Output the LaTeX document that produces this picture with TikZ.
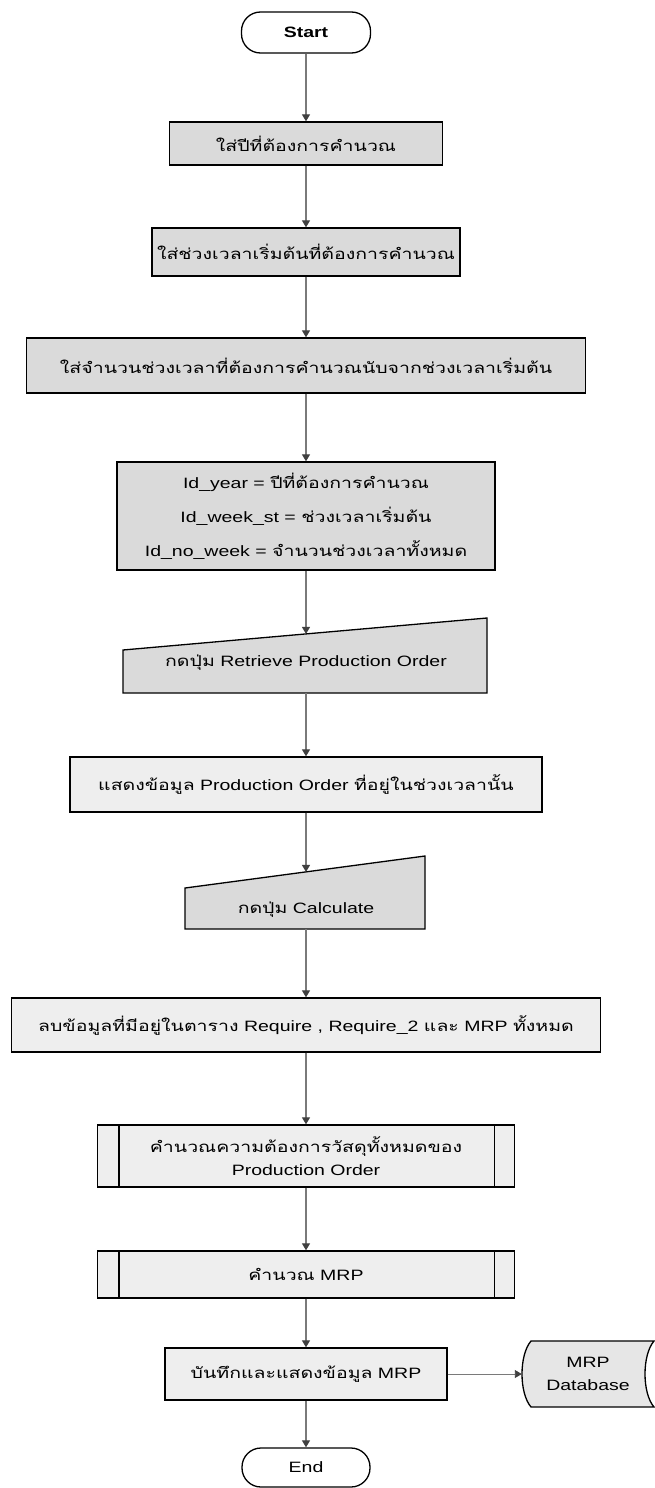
\documentclass[tikz,border=0pt]{standalone}
\usepackage{fontspec}
\setmainfont{Liberation Sans}[FakeStretch=1.3]
\newfontfamily\thai{Loma}[Script=Thai,FakeStretch=1.3]
\usetikzlibrary{arrows.meta,calc}

\definecolor{inputfill}{HTML}{DADADA}
\definecolor{procfill}{HTML}{EEEEEE}
\definecolor{dbfill}{HTML}{E6E6E6}
\definecolor{flowline}{HTML}{7A7A7A}
\definecolor{tipcol}{HTML}{404040}

\begin{document}
\begin{tikzpicture}[x=1pt,y=-1pt,
  font=\fontsize{15}{23}\selectfont,
  shp/.style n args={2}{draw=black,line width=1.3pt,minimum width=#1,minimum height=#2,
    inner sep=0pt,align=center},
  inbox/.style n args={2}{shp={#1}{#2},fill=inputfill},
  procbox/.style n args={2}{shp={#1}{#2},fill=procfill},
  term/.style n args={2}{shp={#1}{#2},fill=white,rounded corners=19pt},
  flow/.style={draw=flowline,line width=1.2pt,
    -{Triangle[width=8pt,length=7pt,color=tipcol,fill=tipcol]}},
  manual/.style={draw=black,line width=1.3pt,fill=inputfill}]

\useasboundingbox (0,0) rectangle (655,1488);

% terminator and data-entry boxes
\node[term={129}{41},font=\fontsize{15}{23}\selectfont\bfseries] (start) at (306,32.5) {Start};
\node[inbox={273}{43}] (b1) at (306,143.5) {\thai ใส่ปีที่ต้องการคำนวณ};
\node[inbox={308}{48}] (b2) at (306,252) {\thai ใส่ช่วงเวลาเริ่มต้นที่ต้องการคำนวณ};
\node[inbox={559}{55}] (b3) at (306,365.5) {\thai ใส่จำนวนช่วงเวลาที่ต้องการคำนวณนับจากช่วงเวลาเริ่มต้น};
\node[inbox={378}{108},font=\fontsize{15}{34}\selectfont] (b4) at (306,516)
  {Id\_year = {\thai ปีที่ต้องการคำนวณ}\\
   Id\_week\_st = {\thai ช่วงเวลาเริ่มต้น}\\
   Id\_no\_week = {\thai จำนวนช่วงเวลาทั้งหมด}};

% manual input: Retrieve
\draw[manual] (123,650) -- (487,618) -- (487,693) -- (123,693) -- cycle;
\node (m1) at (306,663) {{\thai กดปุ่ม} Retrieve Production Order};
\coordinate (m1top) at (306,633.9);
\coordinate (m1bot) at (306,693);

\node[procbox={472}{55}] (disp) at (306,784.5)
  {{\thai แสดงข้อมูล} Production Order {\thai ที่อยู่ในช่วงเวลานั้น}};

% manual input: Calculate
\draw[manual] (185,888) -- (425,856) -- (425,929) -- (185,929) -- cycle;
\node (m2) at (306,910) {{\thai กดปุ่ม} Calculate};
\coordinate (m2top) at (306,871.9);
\coordinate (m2bot) at (306,929);

\node[procbox={589}{54}] (req) at (306,1025)
  {{\thai ลบข้อมูลที่มีอยู่ในตาราง} Require , Require\_2 {\thai และ} MRP {\thai ทั้งหมด}};

% predefined processes
\node[procbox={417}{62}] (p1) at (306,1156)
  {{\thai คำนวณความต้องการวัสดุทั้งหมดของ}\\Production Order};
\node[procbox={417}{47}] (p2) at (306,1274.5) {{\thai คำนวณ} MRP};
\foreach \p in {p1,p2}{
  \draw[line width=1.3pt] ($(\p.north west)+(22,0)$) -- ($(\p.south west)+(22,0)$);
  \draw[line width=1.3pt] ($(\p.north east)+(-21,0)$) -- ($(\p.south east)+(-21,0)$);
}

\node[procbox={282}{52}] (save) at (306,1374) {{\thai บันทึกและแสดงข้อมูล} MRP};

% stored data
\draw[draw=black,line width=1.3pt,fill=dbfill]
  (531,1341) -- (654,1341) .. controls (642,1355) and (642,1393) .. (654,1407)
  -- (531,1407) .. controls (519,1393) and (519,1355) .. (531,1341) -- cycle;
\node[minimum width=132,minimum height=66,inner sep=0pt,align=center] (db) at (588,1374)
  {MRP\\Database};

\node[term={128}{39}] (end) at (306,1467.5) {End};

% connectors
\draw[flow] (start) -- (b1);
\draw[flow] (b1) -- (b2);
\draw[flow] (b2) -- (b3);
\draw[flow] (b3) -- (b4);
\draw[flow] (b4) -- (m1top);
\draw[flow] (m1bot) -- (disp);
\draw[flow] (disp) -- (m2top);
\draw[flow] (m2bot) -- (req);
\draw[flow] (req) -- (p1);
\draw[flow] (p1) -- (p2);
\draw[flow] (p2) -- (save);
\draw[flow] (save) -- (end);
\draw[flow,line width=0.9pt] (save.east) -- (db.west);

\end{tikzpicture}
\end{document}
